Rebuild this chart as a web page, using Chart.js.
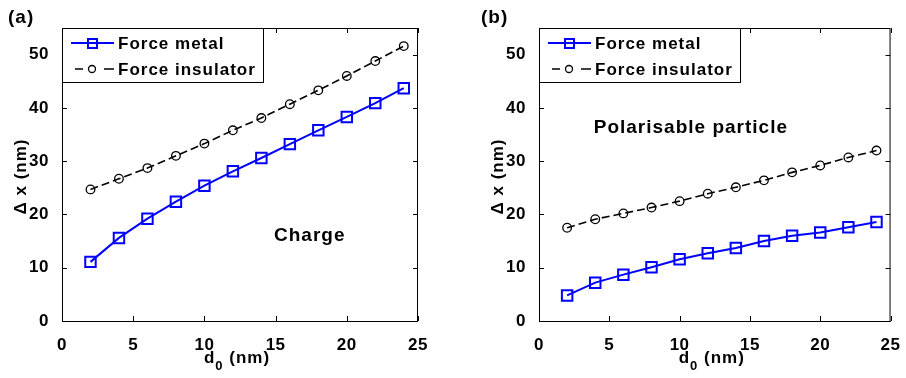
<!DOCTYPE html>
<html>
<head>
<meta charset="utf-8">
<script src="https://cdn.jsdelivr.net/npm/chart.js@4.4.1/dist/chart.umd.min.js"></script>
<style>
  html, body { margin: 0; padding: 0; background: #fff; }
  #wrap { display: flex; width: 906px; height: 378px; }
  .panel { width: 453px; height: 378px; }
</style>
</head>
<body>
<div id="wrap">
  <div class="panel"><canvas id="chartA" width="453" height="378"></canvas></div>
  <div class="panel"><canvas id="chartB" width="453" height="378"></canvas></div>
</div>
<script>
// distances d0 (nm)
const d0 = [2, 4, 6, 8, 10, 12, 14, 16, 18, 20, 22, 24];

// (a) charge
const chargeMetal = [11.1, 15.6, 19.2, 22.4, 25.4, 28.1, 30.6, 33.2, 35.8, 38.3, 40.9, 43.7];
const chargeInsulator = [24.7, 26.7, 28.7, 31.0, 33.3, 35.8, 38.1, 40.7, 43.3, 46.0, 48.8, 51.6];

// (b) polarisable particle
const polarMetal = [4.8, 7.2, 8.7, 10.1, 11.6, 12.7, 13.7, 15.0, 16.0, 16.6, 17.6, 18.6];
const polarInsulator = [17.5, 19.1, 20.2, 21.3, 22.5, 23.9, 25.1, 26.4, 27.9, 29.2, 30.7, 32.0];

const seriesNames = ['Force metal', 'Force insulator'];
const xTicks = [0, 5, 10, 15, 20, 25];
const yTicks = [0, 10, 20, 30, 40, 50];

const FONT = '"Liberation Sans", Arial, Helvetica, sans-serif';

// MATLAB-style box, inward ticks, framed legend and labels
const decor = {
  id: 'decor',
  beforeDraw(chart) {
    chart.ctx.letterSpacing = '0.5px';
  },
  afterDatasetsDraw(chart, args, opts) {
    const { ctx, chartArea: a, scales: { x, y } } = chart;
    ctx.save();
    ctx.letterSpacing = '1px';
    ctx.strokeStyle = '#000';
    ctx.lineWidth = 1;
    ctx.setLineDash([]);

    // ticks pointing inwards on all four sides
    ctx.beginPath();
    xTicks.forEach(v => {
      const px = Math.round(x.getPixelForValue(v)) + 0.5;
      ctx.moveTo(px, a.bottom); ctx.lineTo(px, a.bottom - 5);
      ctx.moveTo(px, a.top); ctx.lineTo(px, a.top + 5);
    });
    yTicks.forEach(v => {
      const py = Math.round(y.getPixelForValue(v)) + 0.5;
      ctx.moveTo(a.left, py); ctx.lineTo(a.left + 5, py);
      ctx.moveTo(a.right, py); ctx.lineTo(a.right - 5, py);
    });
    ctx.stroke();

    // axes box
    ctx.strokeRect(a.left + 0.5, a.top + 0.5, a.right - a.left - 1, a.bottom - a.top);

    // legend
    const lx = a.left, ly = a.top, lw = 201, lh = 54;
    ctx.fillStyle = '#fff';
    ctx.fillRect(lx + 1, ly + 1, lw, lh);
    ctx.strokeRect(lx + 0.5, ly + 0.5, lw, lh);
    chart.data.datasets.forEach((ds, i) => {
      const yy = ly + 15 + i * 26;
      ctx.strokeStyle = ds.borderColor;
      ctx.lineWidth = ds.borderWidth;
      ctx.beginPath();
      if (ds.borderDash) {
        ctx.moveTo(lx + 13, yy); ctx.lineTo(lx + 21, yy);
        ctx.moveTo(lx + 42, yy); ctx.lineTo(lx + 52, yy);
      } else {
        ctx.moveTo(lx + 9, yy); ctx.lineTo(lx + 52, yy);
      }
      ctx.stroke();
      ctx.lineWidth = ds.pointBorderWidth;
      ctx.beginPath();
      if (ds.pointStyle === 'rect') {
        ctx.rect(lx + 26, yy - 4, 9, 9);
      } else {
        ctx.arc(lx + 30, yy, 3.5, 0, Math.PI * 2);
      }
      ctx.stroke();
      ctx.fillStyle = '#000';
      ctx.font = 'bold 17px ' + FONT;
      ctx.textAlign = 'left';
      ctx.textBaseline = 'middle';
      ctx.fillText(ds.label, lx + 56, yy + 1);
    });

    // annotation inside the plot
    ctx.fillStyle = '#000';
    ctx.font = 'bold 19px ' + FONT;
    ctx.textAlign = 'center';
    ctx.textBaseline = 'middle';
    ctx.fillText(opts.note, x.getPixelForValue(opts.noteX), y.getPixelForValue(opts.noteY));

    // panel label
    ctx.textAlign = 'left';
    ctx.fillText(opts.panel, opts.panelX, 18);

    // y axis title
    ctx.save();
    ctx.font = 'bold 17px ' + FONT;
    ctx.translate(a.left - 41, (a.top + a.bottom) / 2 + 2);
    ctx.rotate(-Math.PI / 2);
    ctx.textAlign = 'center';
    ctx.fillText('\u0394 x (nm)', 0, 0);
    ctx.restore();

    // x axis title with subscript
    ctx.textBaseline = 'alphabetic';
    ctx.textAlign = 'left';
    const big = 'bold 17px ' + FONT, small = 'bold 13px ' + FONT;
    ctx.font = big; const w1 = ctx.measureText('d').width, w3 = ctx.measureText(' (nm)').width;
    ctx.font = small; const w2 = ctx.measureText('0').width;
    let sx = (a.left + a.right) / 2 - (w1 + w2 + w3) / 2 - 3;
    ctx.font = big; ctx.fillText('d', sx, 363);
    ctx.font = small; ctx.fillText('0', sx + w1, 370);
    ctx.font = big; ctx.fillText(' (nm)', sx + w1 + w2, 363);

    ctx.restore();
  }
};

function makeChart(id, metal, insulator, padLeft, padRight, opts) {
  const tickFont = { family: FONT, size: 17, weight: 'bold' };
  return new Chart(document.getElementById(id), {
    type: 'line',
    data: {
      datasets: [{
        label: seriesNames[0],
        data: d0.map((v, i) => ({ x: v, y: metal[i] })),
        borderColor: '#0000ff',
        borderWidth: 2,
        pointStyle: 'rect',
        pointRadius: 7.4,
        pointBorderWidth: 2,
        pointBorderColor: '#0000ff',
        pointBackgroundColor: 'rgba(0,0,0,0)',
        tension: 0
      }, {
        label: seriesNames[1],
        data: d0.map((v, i) => ({ x: v, y: insulator[i] })),
        borderColor: '#000000',
        borderWidth: 1.6,
        borderDash: [8, 4],
        pointStyle: 'circle',
        pointRadius: 4.3,
        pointBorderWidth: 1.3,
        pointBorderColor: '#000000',
        pointBackgroundColor: 'rgba(0,0,0,0)',
        tension: 0
      }]
    },
    options: {
      responsive: false,
      animation: false,
      layout: { padding: { left: padLeft, right: padRight, top: 28, bottom: 0 } },
      plugins: {
        legend: { display: false },
        tooltip: { enabled: false },
        decor: opts
      },
      scales: {
        x: {
          type: 'linear',
          min: 0, max: 25,
          grid: { display: false },
          border: { display: false },
          ticks: { stepSize: 5, includeBounds: false, padding: 6, color: '#000', font: tickFont, maxRotation: 0 },
          afterFit(s) { s.height = 57; }
        },
        y: {
          min: 0, max: 55,
          grid: { display: false },
          border: { display: false },
          ticks: { stepSize: 10, includeBounds: false, padding: 5, color: '#000', font: tickFont },
          afterFit(s) { s.width = 62; }
        }
      }
    },
    plugins: [decor]
  });
}

makeChart('chartA', chargeMetal, chargeInsulator, 0, 35,
  { note: 'Charge', noteX: 17.4, noteY: 16, panel: '(a)', panelX: 8 });
makeChart('chartB', polarMetal, polarInsulator, 24, 11,
  { note: 'Polarisable particle', noteX: 10.8, noteY: 36.2, panel: '(b)', panelX: 28 });
</script>
</body>
</html>
